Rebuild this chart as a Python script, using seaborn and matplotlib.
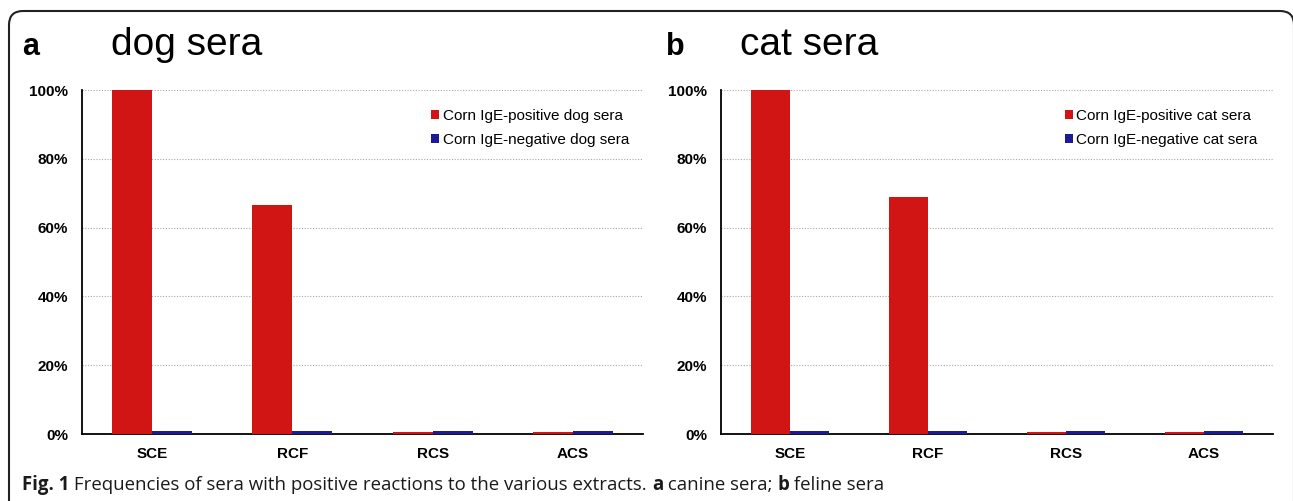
import matplotlib
matplotlib.use("Agg")
import matplotlib.pyplot as plt
import matplotlib.patches as mpatches
import matplotlib.transforms as mtransforms
import numpy as np
import pandas as pd
import seaborn as sns

categories = ["SCE", "RCF", "RCS", "ACS"]
dog_positive = [100.0, 66.7, 0.7, 0.7]
dog_negative = [1.0, 1.0, 1.0, 1.0]
cat_positive = [100.0, 69.0, 0.7, 0.7]
cat_negative = [1.0, 1.0, 1.0, 1.0]
yticks = [0, 20, 40, 60, 80, 100]
ytick_labels = ["0%", "20%", "40%", "60%", "80%", "100%"]

RED = "#D11514"
BLUE = "#1B1B96"

sns.set_theme(style="white")
plt.rcParams["font.family"] = ["Liberation Sans", "DejaVu Sans"]
plt.rcParams["text.color"] = "black"
plt.rcParams["xtick.color"] = "black"
plt.rcParams["ytick.color"] = "black"

W, H = 1293, 501
fig = plt.figure(figsize=(W / 100, H / 100), dpi=100)


def px_axes(x0, x1, y_top, y_bot):
    return fig.add_axes([x0 / W, 1 - y_bot / H, (x1 - x0) / W, (y_bot - y_top) / H])


def draw_panel(ax, pos, neg, pos_label, neg_label):
    df = pd.DataFrame({
        "cat": categories * 2,
        "val": list(pos) + list(neg),
        "grp": [pos_label] * len(categories) + [neg_label] * len(categories),
    })
    sns.barplot(data=df, x="cat", y="val", hue="grp", order=categories,
                hue_order=[pos_label, neg_label], palette=[RED, BLUE],
                width=0.57, saturation=1, linewidth=0, ax=ax, zorder=3)
    ax.set_xlim(-0.5, len(categories) - 0.5)
    ax.set_ylim(0, 100)
    ax.set_yticks(yticks)
    ax.set_yticklabels(ytick_labels, fontsize=11, fontweight="bold")
    ax.set_xticks(range(len(categories)))
    ax.set_xticklabels(categories, fontsize=11, fontweight="bold")
    ax.set_xticks(np.arange(-0.5, len(categories), 1.0), minor=True)
    ax.tick_params(axis="x", which="major", length=0, pad=9)
    ax.tick_params(axis="x", which="minor", length=5, width=1.2, direction="out", color="black")
    ax.tick_params(axis="y", which="major", length=4, width=1.2, direction="out", color="black", pad=6)
    ax.set_xlabel("")
    ax.set_ylabel("")
    for s in ["top", "right"]:
        ax.spines[s].set_visible(False)
    for s in ["left", "bottom"]:
        ax.spines[s].set_color("black")
        ax.spines[s].set_linewidth(1.3)
    ax.yaxis.grid(True, linestyle=(0, (1, 1.5)), color="#A8A8A8", linewidth=0.8, zorder=0)
    ax.xaxis.grid(False)
    ax.set_axisbelow(True)
    for g in ax.get_ygridlines()[:1]:
        g.set_visible(False)
    handles, labels = ax.get_legend_handles_labels()
    ax.legend(handles, labels, loc="upper left", bbox_to_anchor=(0.612, 0.962),
              frameon=False, fontsize=11, handlelength=0.5, handleheight=0.5,
              handletextpad=0.25, labelspacing=0.62, borderaxespad=0)


axL = px_axes(82, 643, 90, 434)
draw_panel(axL, dog_positive, dog_negative, "Corn IgE-positive dog sera", "Corn IgE-negative dog sera")
axR = px_axes(721, 1273, 90, 434)
draw_panel(axR, cat_positive, cat_negative, "Corn IgE-positive cat sera", "Corn IgE-negative cat sera")

# panel titles
fig.text(22 / W, 1 - 55 / H, "a", fontsize=22, fontweight="bold", ha="left", va="baseline")
fig.text(111 / W, 1 - 55 / H, "dog sera", fontsize=28, ha="left", va="baseline")
fig.text(666 / W, 1 - 55 / H, "b", fontsize=22, fontweight="bold", ha="left", va="baseline")
fig.text(740 / W, 1 - 55 / H, "cat sera", fontsize=28, ha="left", va="baseline")

# border (rounded, partly cropped)
border = mpatches.FancyBboxPatch((9, -30), 1294 - 9, (H - 11) + 30,
                                 boxstyle="round,pad=0,rounding_size=14",
                                 transform=mtransforms.IdentityTransform(),
                                 fill=False, edgecolor="#222222", linewidth=1.5)
fig.add_artist(border)

# caption with mixed weights
pieces = [("Fig. 1", "bold"), (" Frequencies of sera with positive reactions to the various extracts. ", "normal"),
          ("a", "bold"), (" canine sera; ", "normal"), ("b", "bold"), (" feline sera", "normal")]
renderer = fig.canvas.get_renderer()
x = 22.0
for txt, wt in pieces:
    t = fig.text(x / W, 1 - 490 / H, txt, fontsize=13.4, fontweight=wt, ha="left", va="baseline",
                 family=["Open Sans", "DejaVu Sans"], color="#1a1a1a")
    bb = t.get_window_extent(renderer=renderer)
    x = bb.x1

fig.savefig("out.png", dpi=100)
